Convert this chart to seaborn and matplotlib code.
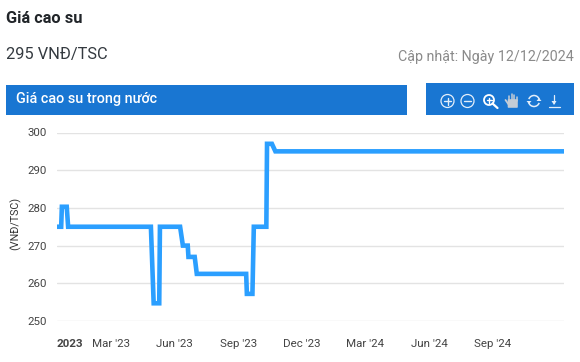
import matplotlib
matplotlib.use("Agg")
import matplotlib.pyplot as plt
from matplotlib.patches import Rectangle, Circle, Polygon, FancyBboxPatch, Arc
from matplotlib.lines import Line2D
import pandas as pd
import seaborn as sns

dates = ["2022-12-14", "2022-12-20", "2022-12-21", "2022-12-28", "2022-12-30",
         "2023-04-28", "2023-05-02", "2023-05-10", "2023-05-11", "2023-06-09",
         "2023-06-13", "2023-06-20", "2023-06-21", "2023-06-30", "2023-07-03",
         "2023-09-12", "2023-09-13", "2023-09-21", "2023-09-23", "2023-10-11",
         "2023-10-12", "2023-10-19", "2023-10-24", "2024-12-12"]
prices = [275, 275, 280.3, 280.3, 275,
          275, 254.7, 254.7, 275, 275,
          270, 270, 267, 267, 262.5,
          262.5, 257.2, 257.2, 275, 275,
          297, 297, 295, 295]
tick_dates = ["2023-01-01", "2023-03-01", "2023-06-01", "2023-09-01", "2023-12-01",
              "2024-03-01", "2024-06-01", "2024-09-01"]
tick_labels = ["2023", "Mar '23", "Jun '23", "Sep '23", "Dec '23", "Mar '24", "Jun '24", "Sep '24"]
y_ticks = [250, 260, 270, 280, 290, 300]

W, H = 580, 362
sns.set_theme(style="white")
plt.rcParams["font.family"] = ["Roboto", "DejaVu Sans"]
px = 0.72  # px to pt at dpi 100

fig = plt.figure(figsize=(W / 100, H / 100), dpi=100, facecolor="white")

# overlay in pixel coordinates for the page furniture
bg = fig.add_axes([0, 0, 1, 1], zorder=0)
bg.set_xlim(0, W); bg.set_ylim(H, 0); bg.axis("off")
BLUE = "#1976d2"
bg.add_patch(Rectangle((6, 85), 401, 30, fc=BLUE, ec="none"))
bg.add_patch(Rectangle((426, 83), 148, 32, fc=BLUE, ec="none"))
bg.text(6, 18.5, "Giá cao su", fontsize=16.4 * px, fontweight="bold", color="#212529", va="center", ha="left")
bg.text(6, 54, "295 VNĐ/TSC", fontsize=16.4 * px, color="#343a40", va="center", ha="left")
bg.text(574, 57, "Cập nhật: Ngày 12/12/2024", fontsize=14.2 * px, color="#8a8a8a", va="center", ha="right")
bg.text(16, 99.5, "Giá cao su trong nước", fontsize=14.4 * px, fontweight="medium", color="white", va="center", ha="left")

# toolbar icons
ic = "#e3eefa"
hand = "#c5cdd6"
def seg(x0, y0, x1, y1, lw=1.0, c=ic):
    bg.add_line(Line2D([x0, x1], [y0, y1], color=c, lw=lw, solid_capstyle="round"))
for cx, plus in ((447.5, True), (467.5, False)):
    bg.add_patch(Circle((cx, 101), 6.5, fc="none", ec=ic, lw=0.9))
    seg(cx - 3.5, 101, cx + 3.5, 101)
    if plus:
        seg(cx, 97.5, cx, 104.5)
bg.add_patch(Circle((489, 100), 5, fc="none", ec="white", lw=1.3))
seg(486.5, 100, 491.5, 100, 1.0, "white")
seg(489, 97.5, 489, 102.5, 1.0, "white")
seg(492.5, 103.5, 497.5, 108, 1.6, "white")
bg.add_patch(FancyBboxPatch((508.5, 100), 8.5, 7, boxstyle="round,pad=0.8", fc=hand, ec="none"))
for fx, ft in ((509, 95.5), (511.5, 94), (514, 94.5), (516.5, 96.5)):
    seg(fx, ft, fx, 101, 1.1, hand)
seg(505.5, 100, 509, 105, 1.3, hand)
bg.add_patch(Arc((534, 101), 11, 11, theta1=200, theta2=340, fc="none", ec=ic, lw=1.1))
bg.add_patch(Arc((534, 101), 11, 11, theta1=20, theta2=160, fc="none", ec=ic, lw=1.1))
bg.add_patch(Polygon([[526.5, 101], [531.5, 101], [529, 104]], fc=ic, ec="none"))
bg.add_patch(Polygon([[536.5, 101], [541.5, 101], [539, 98]], fc=ic, ec="none"))
seg(554, 95, 554, 103, 0.9)
bg.add_patch(Polygon([[551.5, 101], [556.5, 101], [554, 105]], fc=ic, ec="none"))
seg(548.5, 107, 559.5, 107, 0.9)

# chart
left, right, top, bottom = 57, 564, 132.5, 321
ax = fig.add_axes([left / W, 1 - bottom / H, (right - left) / W, (bottom - top) / H], zorder=1)
ax.patch.set_alpha(0)
df = pd.DataFrame({"date": pd.to_datetime(dates), "price": prices})
sns.lineplot(data=df, x="date", y="price", ax=ax, estimator=None, sort=False,
             color="#2b9fff", linewidth=4.6 * px, zorder=3, clip_on=False)
ax.lines[0].set_solid_joinstyle("miter")
ax.lines[0].set_solid_capstyle("butt")
ax.set_xlim(pd.Timestamp(dates[0]), pd.Timestamp(dates[-1]))
ax.set_ylim(250, 300)
ax.set_yticks(y_ticks)
ax.set_xticks(pd.to_datetime(tick_dates))
ax.set_xticklabels(tick_labels)
ax.set_xlabel(""); ax.set_ylabel("")
ax.grid(axis="y", color="#e3e3e3", lw=1.4 * px, zorder=0)
ax.grid(axis="x", visible=False)
ax.set_axisbelow(True)
for s in ax.spines.values():
    s.set_visible(False)
ax.tick_params(axis="y", length=0, pad=7, labelsize=11.5 * px, labelcolor="#444444")
ax.tick_params(axis="x", length=0, pad=13, labelsize=11.5 * px, labelcolor="#444444")
ax.get_xticklabels()[0].set_fontweight("bold")
bg.text(15.5, 223, "(VNĐ/TSC)", fontsize=10.8 * px, color="#333333", rotation=90, va="center", ha="center")

fig.savefig("out.png", dpi=100, facecolor="white")
